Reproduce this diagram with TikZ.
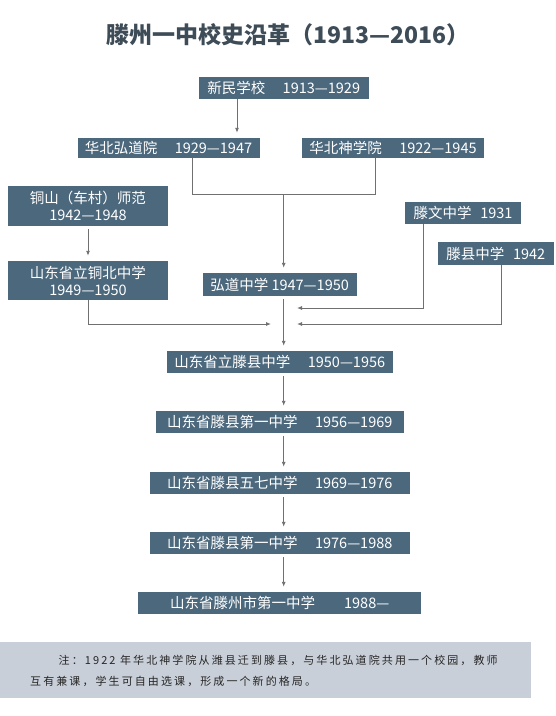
\documentclass[tikz,border=0pt]{standalone}
\usepackage{fontspec}
\usetikzlibrary{arrows.meta}
\newfontfamily\cjk{Noto Sans CJK SC}
\newfontfamily\notefont[LetterSpace=19]{Noto Sans CJK SC}
\definecolor{boxblue}{HTML}{4C687D}
\definecolor{notegray}{HTML}{C9CFD8}
\definecolor{titlecol}{HTML}{3E4C57}
\definecolor{linecol}{HTML}{707070}
\tikzset{
  box/.style={fill=boxblue, text=white, inner sep=0pt, align=center,
    font=\cjk\fontsize{14.5}{17}\selectfont},
  ln/.style={draw=linecol, line width=0.9pt},
  arr/.style={ln, -{Latex[length=5pt,width=4pt]}},
  varr/.style={arr, shorten <=3pt, shorten >=5pt}
}
\begin{document}
\begin{tikzpicture}[x=1pt,y=-1pt]
\useasboundingbox (0,0) rectangle (556,716);
\fill[white] (0,0) rectangle (556,716);

\node[font=\cjk\bfseries\fontsize{23}{26}\selectfont, text=titlecol] (title) at (288,35) {滕州一中校史沿革（1913—2016）};

\node[box, minimum width=170pt, minimum height=22pt] (A) at (283.7,88) {新民学校\hspace{1.2em}1913—1929};
\node[box, minimum width=182pt, minimum height=20pt] (B) at (168.5,148) {华北弘道院\hspace{1.2em}1929—1947};
\node[box, minimum width=182pt, minimum height=20pt] (C) at (393,148) {华北神学院\hspace{1.2em}1922—1945};
\node[box, minimum width=160pt, minimum height=40pt] (D) at (88,206) {铜山（车村）师范\\1942—1948};
\node[box, minimum width=160pt, minimum height=39pt] (E) at (88,280.5) {山东省立铜北中学\\1949—1950};
\node[box, minimum width=154pt, minimum height=23pt] (F) at (279.6,284.5) {弘道中学 1947—1950};
\node[box, minimum width=116pt, minimum height=22pt] (G) at (463,213) {滕文中学\hspace{0.6em}1931};
\node[box, minimum width=116pt, minimum height=23pt] (H) at (495.8,253.5) {滕县中学\hspace{0.6em}1942};
\node[box, minimum width=226pt, minimum height=22pt] (I) at (279.8,362) {山东省立滕县中学\hspace{1.2em}1950—1956};
\node[box, minimum width=247.5pt, minimum height=22pt] (J) at (279.8,422) {山东省滕县第一中学\hspace{1.2em}1956—1969};
\node[box, minimum width=260.4pt, minimum height=22pt] (K) at (279.8,483) {山东省滕县五七中学\hspace{1.2em}1969—1976};
\node[box, minimum width=260.4pt, minimum height=22pt] (L) at (279.8,543) {山东省滕县第一中学\hspace{1.2em}1976—1988};
\node[box, minimum width=282.7pt, minimum height=22pt] (M) at (279.7,603) {山东省滕州市第一中学\hspace{2em}1988—};

% note
\node[fill=notegray, minimum width=531pt, minimum height=56pt, inner sep=0pt, anchor=north west] (note) at (0,642) {};
\node[font=\notefont\fontsize{11}{13}\selectfont, text=black!85, anchor=west, inner sep=0pt] (n1) at (58.5,660) {注：1922 年华北神学院从潍县迁到滕县，与华北弘道院共用一个校园，教师};
\node[font=\notefont\fontsize{11}{13}\selectfont, text=black!85, anchor=west, inner sep=0pt] (n2) at (30,681) {互有兼课，学生可自由选课，形成一个新的格局。};

% coordinates
\coordinate (xab) at (237,0);
\coordinate (mx) at (283.7,0);
\coordinate (m1) at (192,194);
\coordinate (m2) at (375,194);
\coordinate (m3) at (283.7,194);
\coordinate (e1) at (88,324);
\coordinate (et) at (271,324);
\coordinate (g1) at (423,308);
\coordinate (gt) at (297,308);
\coordinate (h1) at (501,324);
\coordinate (ht) at (297,324);

% connectors
\draw[arr, shorten >=5pt] (A.south -| xab) -- (B.north -| xab);
\draw[ln] (B.south -| m1) -- (m1) -- (m2) -- (C.south -| m2);
\draw[arr, shorten >=5pt] (m3) -- (F.north -| m3);
\draw[varr] (D.south) -- (E.north);
\draw[arr] (E.south) -- (e1) -- (et);
\draw[arr] (G.south -| g1) -- (g1) -- (gt);
\draw[arr] (H.south -| h1) -- (h1) -- (ht);
\draw[varr] (F.south -| mx) -- (I.north -| mx);
\draw[varr] (I.south -| mx) -- (J.north -| mx);
\draw[varr] (J.south -| mx) -- (K.north -| mx);
\draw[varr] (K.south -| mx) -- (L.north -| mx);
\draw[varr] (L.south -| mx) -- (M.north -| mx);
\end{tikzpicture}
\end{document}
